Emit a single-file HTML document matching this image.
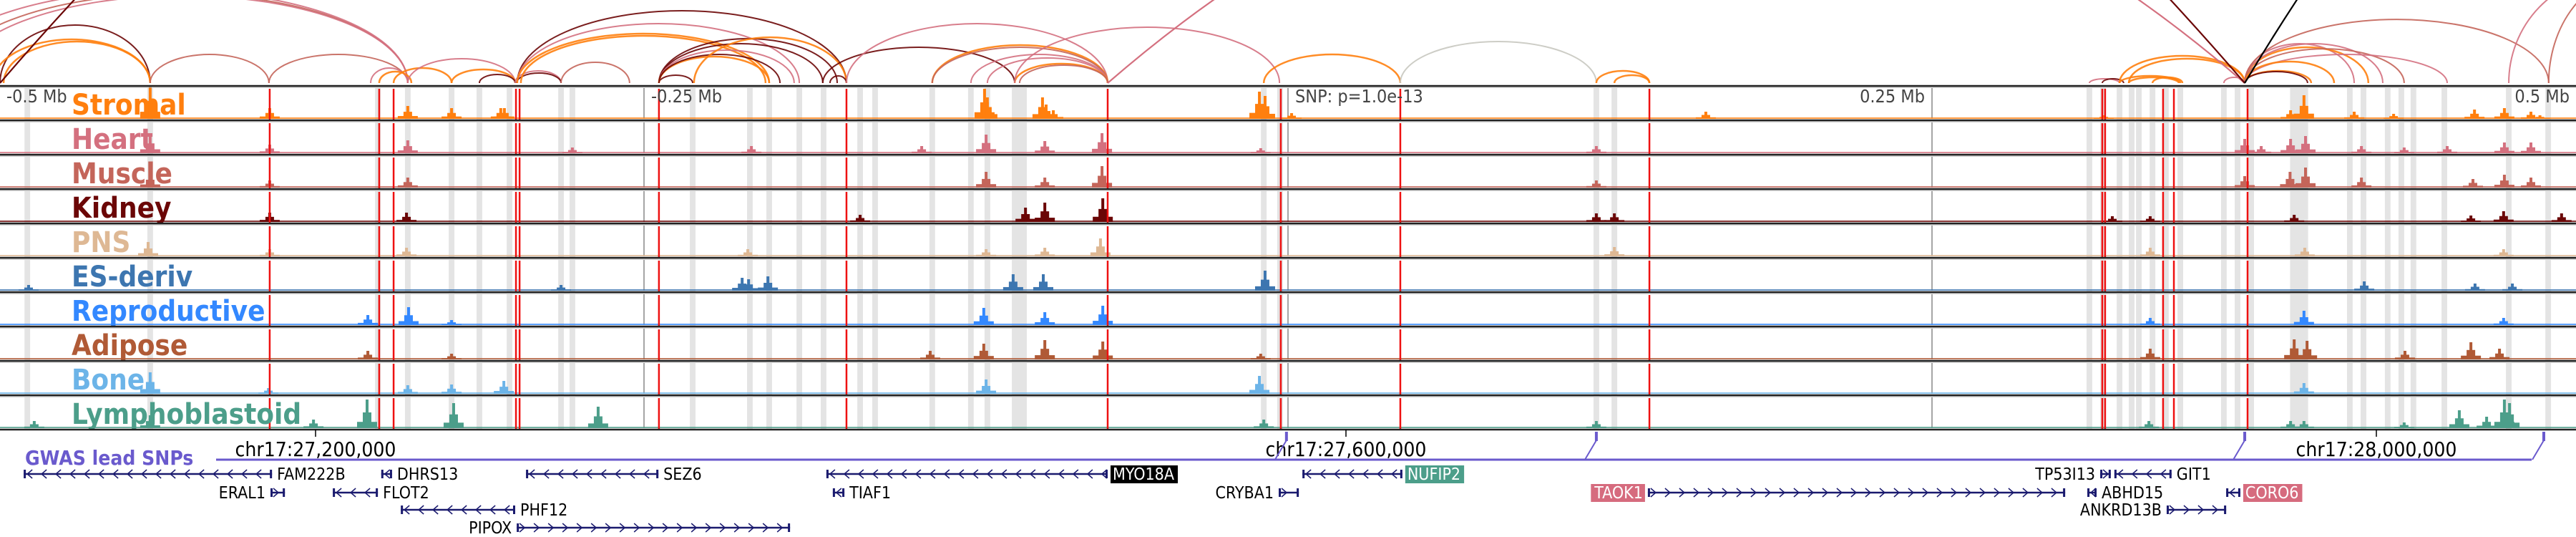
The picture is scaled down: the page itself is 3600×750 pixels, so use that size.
<!DOCTYPE html>
<html><head><meta charset="utf-8"><style>
html,body{margin:0;padding:0;background:#fff;}
svg{display:block;}
text{font-family:"DejaVu Sans Condensed","DejaVu Sans","Liberation Sans",sans-serif;}
</style></head><body>
<svg id="chart" width="3600" height="750" viewBox="0 0 3600 750" xmlns="http://www.w3.org/2000/svg">
<g id="arcs"></g>
<g id="tracks"></g>
<g id="axis"></g>
<g id="genes"></g>
</svg>
<script>
// ---- data (positions in kb from window start chr17:27,077,500) ----
const trackNames = ["Stromal","Heart","Muscle","Kidney","PNS","ES-deriv","Reproductive","Adipose","Bone","Lymphoblastoid"];
const trackColors = ["#ff7f0e","#d4707f","#c4655a","#6b0606","#deb894","#3d76b0","#3388ff","#b05a36","#6cb4e8","#4c9e8a"];
const snpKb = [104.7,147.2,152.8,200.3,201.7,255.8,328.6,430,497.2,543.6,640.3,816.1,817.2,839.7,843.9,872.5];
const bandKb = [10.6,58.3,146.7,158.3,175.3,186.1,197.8,217.8,222.2,268.9,291.1,298.6,310.3,319.7,333.9,339.7,361.9,376.9,383.3,393.9,396.1,397.5,490.6,496.9,619.7,626.7,811.1,816.4,822.8,827.5,830.3,835.6,840.8,846.4,863.3,868.6,873.9,892.5,912.2,917.5,926.9,932.2,936.9,948.9,973.9,989.2];
const bandWidthKb = [2.2,2.2,2.2,2.2,2.2,2.2,2.2,2.2,2.2,2.2,2.2,2.2,2.2,2.2,2.2,2.2,2.2,2.2,2.2,2.2,2.2,2.2,2.2,2.2,2.2,2.2,2.2,2.2,2.2,2.2,2.2,2.2,2.2,2.2,2.2,2.2,2.2,7,2.2,2.2,2.2,2.2,2.2,2.2,2.2,2.2];
const axisTickKb = [250,500,750];
const axisTickLabels = ["-0.25 Mb","SNP: p=1.0e-13","0.25 Mb"];
const peaksStromal = [[58.3,45],[104.7,15],[158.3,18],[175.3,15],[194.4,15],[195.8,15],[382.2,42],[383.3,30],[404.7,30],[406.1,20],[408.9,12],[488.9,38],[491.1,32],[501.4,8],[662.2,10],[816.7,5],[889.2,12],[894.4,33],[913.9,10],[929.2,7],[960.6,13],[972.2,15],[982.5,10],[986,5]];
const peaksHeart = [[58.3,25],[104.7,12],[158.3,18],[222.2,8],[291.7,10],[357.8,10],[382.8,26],[405.6,17],[427.8,28],[489.4,7],[619.7,10],[871.4,20],[889.2,20],[895,24],[877.8,10],[916.7,10],[933.3,8],[972.2,15],[982.5,15],[950,10]];
const peaksMuscle = [[58.3,20],[104.7,10],[158.3,14],[382.8,22],[405.6,14],[427.8,30],[619.7,10],[871.4,16],[895,28],[889,22],[916.7,14],[960,12],[972.2,18],[982.5,14]];
const peaksKidney = [[104.7,13],[157.8,13],[333.9,10],[398.1,20],[405.6,27],[428.1,33],[619.7,12],[626.7,12],[820,8],[834.7,8],[890.6,10],[959.2,9],[971.9,15],[994.4,12]];
const peaksPNS = [[57.5,20],[104.7,10],[157.8,12],[290.3,10],[382.8,10],[405.6,12],[427.2,25],[626.7,13],[834.7,12],[894.7,12],[971.9,10]];
const peaksES = [[11.1,8],[217.8,8],[288.1,18],[290.6,16],[298.1,20],[393.3,23],[405,23],[491.1,28],[917.8,13],[960.8,10],[975.3,10]];
const peaksRepro = [[142.8,14],[158.6,25],[175.3,7],[381.9,24],[405.6,18],[428.1,27],[894.4,20],[834.7,10],[971.9,10]];
const peaksAdipose = [[142.8,12],[175.3,8],[361.1,12],[381.9,22],[405.6,27],[428.1,25],[489.4,8],[834.7,15],[890.6,28],[895.6,26],[959.2,24],[933.6,12],[970.3,15]];
const peaksBone = [[58.3,30],[104.2,8],[158.3,12],[175.3,13],[195.6,18],[382.8,20],[488.9,25],[894.4,15]];
const peaksLympho = [[13.3,10],[58.3,18],[121.7,12],[142.5,40],[176.1,35],[232.2,30],[490.6,12],[619.7,10],[834.2,10],[889.2,10],[894.4,10],[954.7,25],[965.3,16],[972.2,40],[974.2,35],[933.3,8]];
const trackPeaks = [peaksStromal,peaksHeart,peaksMuscle,peaksKidney,peaksPNS,peaksES,peaksRepro,peaksAdipose,peaksBone,peaksLympho];
// arcs: start kb, end kb, score, colour key
const arcStart = [0,-2.8,1.4,58.3,104.4,-22,-17,-30,143.9,147.2,152.8,158.3,175.3,186.1,200,200.6,200.8,200.8,200.8,202.2,217.8,255.8,255.8,255.8,255.8,255.8,255.8,269.4,319.4,322.2,328.6,361.9,361.9,376.9,383.3,393.9,395.8,393.9,490.6,543.6,619.7,626.7,811.1,816.1,822.8,826.4,835.6,822.8,826.4,863.3,871.4,871.4,871.4,871.4,871.4,871.4,871.4,871.4,871.4,973.9,989.4];
const arcEnd = [58.3,58.3,58.3,104.4,158.3,158.3,158.3,158.3,158.3,159.7,175.3,200,200,200,217.8,217.8,328.6,310.3,298.6,297.2,244.4,268.9,325,319.4,308.3,298.6,302.8,328.6,393.9,328.6,430,430,430,430,430,430,430,496.7,543.6,619.7,640.3,640.3,822.8,824.4,846.4,845.8,847.2,871.4,871.4,871.4,897.2,895.8,913.9,919.4,925,933.3,950,906.1,989.4,1055,1055];
const arcScore = [81,61,58,40,40,125,122,130,21,16,21,34,19,12,17,14,101,83,69,66,29,11,62,55,46,37,40,64,50,10,83,53,50,40,35,27,25,78,40,58,17,11,6,6,10,8,8,38,34,8,17,16,55,50,55,48,40,30,89,150,150];
const arcTissue = ["K","S","S","M","M","M","H","H","H","S","S","H","S","K","H","K","K","H","S","S","M","K","K","K","H","S","K","S","K","K","H","S","M","H","H","S","M","H","S","G","S","S","H","K","S","S","S","S","S","H","S","K","H","S","H","M","H","S","M","H","M"];
const longStart = [430,0,871.4];
const longEnd = [871.4,871.4,1333];
const longScore = [344,909,693];
const longTissue = ["H","K","B"];
const geneNames = ["FAM222B","DHRS13","SEZ6","MYO18A","NUFIP2","GIT1","TP53I13","ERAL1","FLOT2","TIAF1","CRYBA1","TAOK1","ABHD15","CORO6","PHF12","ANKRD13B","PIPOX"];
const geneStart = [9.2,148,204.2,320.8,505.6,820.8,815.3,105,129.2,323.3,496.4,639.7,810.3,864.2,155.6,841.1,200.6];
const geneEnd = [105.6,152.2,255.6,430,544.4,843,819.4,110.6,146.7,327.8,504.2,801.7,813.9,869.7,200,864.2,306.7];
const geneRow = [0,0,0,0,0,0,0,1,1,1,1,1,1,1,2,2,3];
const geneStrand = ["-","-","-","-","-","-","+","+","-","-","+","+","-","-","-","+","+"];
const geneHighlight = ["","","","#000000","#4c9e8a","","","","","","","#d66b7e","","#d66b7e","","",""];
const coordTickKb = [122.5,522.5,922.5];
const coordTickLabels = ["chr17:27,200,000","chr17:27,600,000","chr17:28,000,000"];
const gwasKb = [499.4,619.7,871.4,987.5];

// ---- scales ----
const NS="http://www.w3.org/2000/svg";
const xKb = kb => kb*3.6;
const TRACK_TOP=120, TRACK_H=48, ARC_BASE=116;
const arcColor = {S:"#ff7f0e",H:"#d4707f",M:"#c4655a",K:"#6b0606",G:"#c8c8c0",B:"#000000"};
function mk(tag,attrs,parent){const e=document.createElementNS(NS,tag);for(const k in attrs)e.setAttribute(k,attrs[k]);parent.appendChild(e);return e;}

// ---- arcs ----
const gA=document.getElementById('arcs');
const clip=mk('clipPath',{id:'arcclip'},gA);mk('rect',{x:0,y:0,width:3600,height:ARC_BASE+2},clip);
const gAc=mk('g',{'clip-path':'url(#arcclip)'},gA);
arcStart.forEach((s,i)=>{
  const x1=xKb(s),x2=xKb(arcEnd[i]),rx=(x2-x1)/2,ry=arcScore[i];
  const p=mk('path',{d:`M${x1},${ARC_BASE} A${rx},${ry} 0 0 1 ${x2},${ARC_BASE}`,fill:'none',stroke:arcColor[arcTissue[i]],'stroke-width':(arcTissue[i]==='S'?2.5:2),opacity:0.9},gAc);
  
  
});
longStart.forEach((s,i)=>{
  const x1=xKb(s),x2=xKb(longEnd[i]);
  const p=mk('path',{d:`M${x1},${ARC_BASE} Q${(x1+x2)/2},${ARC_BASE-2*longScore[i]} ${x2},${ARC_BASE}`,fill:'none',stroke:arcColor[longTissue[i]],'stroke-width':2.2},gAc);
  
  
});

// ---- tracks ----
const gT=document.getElementById('tracks');
trackNames.forEach((name,t)=>{
  const top=TRACK_TOP+t*TRACK_H, base=top+TRACK_H-2;
  const g=mk('g',{},gT);
  
  
  bandKb.forEach((b,i)=>{const w=xKb(bandWidthKb[i]);const r=mk('rect',{x:xKb(b)-w/2,y:top+3,width:w,height:TRACK_H-4,fill:'#e4e4e4'},g);
    
    });
  axisTickKb.forEach(k=>{const l=mk('line',{x1:xKb(k),x2:xKb(k),y1:top+3,y2:base,stroke:'#888','stroke-width':1.5},g);
    
    });
  const bl=mk('rect',{x:0,y:base-2,width:3600,height:2,fill:trackColors[t],opacity:0.8},g);
  
  
  trackPeaks[t].forEach(pk=>{
    const x=xKb(pk[0]),v=pk[1];
    const b3=mk('rect',{x:x-14,y:base-v*0.22,width:28,height:v*0.22,fill:trackColors[t]},g);
    
    
    const b2=mk('rect',{x:x-6,y:base-v*0.55,width:12,height:v*0.55,fill:trackColors[t]},g);
    
    
    const b=mk('rect',{x:x-2,y:base-v,width:4,height:v,fill:trackColors[t]},g);
    
    
  });
  snpKb.forEach(s=>{const l=mk('line',{x1:xKb(s),x2:xKb(s),y1:top+4,y2:base+2,stroke:'#ee1111','stroke-width':2.5},g);
    
    });
  mk('line',{x1:0,x2:3600,y1:top,y2:top,stroke:'#222','stroke-width':2.5},g);
  mk('line',{x1:0,x2:3600,y1:top+2,y2:top+2,stroke:'#aaa','stroke-width':1},g);
  const lab=mk('text',{x:100,y:top+40,fill:trackColors[t],'font-size':40,'font-weight':'bold','font-family':'"DejaVu Sans","Liberation Sans",sans-serif'},g);
  lab.textContent=name;
  
  
});
mk('line',{x1:0,x2:3600,y1:TRACK_TOP+10*TRACK_H,y2:TRACK_TOP+10*TRACK_H,stroke:'#222','stroke-width':2.5},gT);

// ---- axis labels in first track ----
const gX=document.getElementById('axis');
const aL=[["-0.5 Mb",9,'start'],[axisTickLabels[0],xKb(axisTickKb[0])+10,'start'],[axisTickLabels[1],xKb(axisTickKb[1])+10,'start'],[axisTickLabels[2],xKb(axisTickKb[2])-10,'end'],["0.5 Mb",3591,'end']];
aL.forEach(a=>{const tx=mk('text',{x:a[1],y:143,'font-size':25,fill:'#444','text-anchor':a[2]},gX);tx.textContent=a[0];
  
  });
coordTickKb.forEach((k,i)=>{
  mk('line',{x1:xKb(k),x2:xKb(k),y1:600,y2:610,stroke:'#000','stroke-width':1.5},gX);
  const tx=mk('text',{x:xKb(k),y:637,'font-size':28,fill:'#000','text-anchor':'middle'},gX);
  tx.textContent=coordTickLabels[i];
  
  
});
const gw=mk('text',{x:35,y:649,'font-size':28,'font-weight':'bold',fill:'#6a5acd'},gX);
gw.textContent="GWAS lead SNPs";


const lastX=xKb(gwasKb[gwasKb.length-1])-17;
mk('line',{x1:302,x2:lastX,y1:642,y2:642,stroke:'#6a5acd','stroke-width':3},gX);
gwasKb.forEach(k=>{const x=xKb(k);
  const m=mk('rect',{x:x-2,y:603,width:4,height:13,fill:'#6a5acd'},gX);
  
  
  mk('line',{x1:x,x2:x-16,y1:615,y2:642,stroke:'#6a5acd','stroke-width':2},gX);});

// ---- genes ----
const gG=document.getElementById('genes');
const rowY=[662,688,712,737];
geneNames.forEach((n,i)=>{
  const x1=xKb(geneStart[i]),x2=xKb(geneEnd[i]),y=rowY[geneRow[i]];
  const g=mk('g',{},gG);
  
  
  mk('line',{x1:x1,x2:x2,y1:y,y2:y,stroke:'#1a1a6e','stroke-width':2.5},g);
  for(let x=x1+8;x<x2-4;x+=20){
    const d=geneStrand[i]==='-'?`M${x+4},${y-6} L${x-3},${y} L${x+4},${y+6}`:`M${x-4},${y-6} L${x+3},${y} L${x-4},${y+6}`;
    mk('path',{d:d,fill:'none',stroke:'#1a1a6e','stroke-width':1.5},g);
  }
  mk('rect',{x:x1,y:y-6,width:3,height:12,fill:'#1a1a6e'},g);
  mk('rect',{x:x2-3,y:y-6,width:3,height:12,fill:'#1a1a6e'},g);
  const right=geneStrand[i]==='-';
  const tx=right?x2+4:x1-4;
  const t=mk('text',{x:right?tx+3:tx-3,y:y+8,'font-size':23,fill:geneHighlight[i]?'#fff':'#000','text-anchor':right?'start':'end'},g);
  t.textContent=n;
  
  
  if(geneHighlight[i]){
    const w=t.getComputedTextLength()+8;
    const r=mk('rect',{x:right?tx:tx-w,y:y-12,width:w,height:25,fill:geneHighlight[i]},g);
    g.insertBefore(r,t);
  }
});
</script>
</body></html>
